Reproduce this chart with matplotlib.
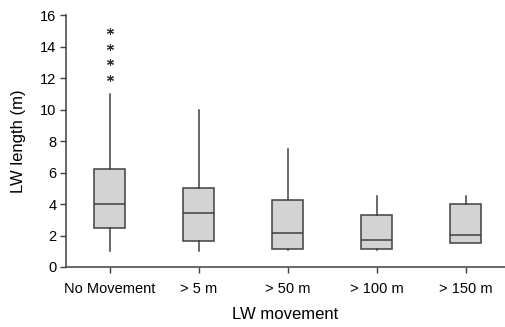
import numpy as np
import matplotlib
matplotlib.use("Agg")
from matplotlib import pyplot as plt


# =============================================================================
# Data (box plot statistics)
# =============================================================================
categories = ['No Movement', '> 5 m', '> 50 m', '> 100 m', '> 150 m']
whisker_low = [1.0, 1.0, 1.1, 1.1, 1.5]
q1 = [2.5, 1.65, 1.15, 1.15, 1.55]
median = [4.0, 3.45, 2.15, 1.7, 2.05]
q3 = [6.25, 5.0, 4.25, 3.3, 4.0]
whisker_high = [11.0, 10.0, 7.5, 4.5, 4.5]
outliers = [[12, 13, 14, 15], [], [], [], []]


# =============================================================================
# Plot parameters
# =============================================================================
plt.rcParams['font.family'] = 'Liberation Sans'
plt.rcParams['font.size'] = 10.5
plt.rcParams['axes.spines.right'] = False
plt.rcParams['axes.spines.top'] = False
edge = '#404040'

fig = plt.figure(figsize=(5.05, 3.27), dpi=100)
ax = fig.add_axes([0.1307, 0.1835, 0.8693, 0.7705])

stats = []
for i in range(len(categories)):
    stats.append({
        'whislo': whisker_low[i], 'q1': q1[i], 'med': median[i],
        'q3': q3[i], 'whishi': whisker_high[i],
        'fliers': outliers[i], 'label': categories[i]})

ax.bxp(stats, positions=np.arange(len(categories)), widths=0.345,
    patch_artist=True, showcaps=False,
    boxprops=dict(facecolor='#d3d3d3', edgecolor=edge, linewidth=1.1),
    medianprops=dict(color=edge, linewidth=1.1),
    whiskerprops=dict(color=edge, linewidth=1.1),
    flierprops=dict(marker=(6, 2, 0), markersize=5, markeredgecolor='#333333',
        markeredgewidth=0.8, linestyle='none'))

# x-axis parameters
ax.set_xlim(-0.49, 4.44)
ax.set_xlabel('LW movement', fontsize=12, labelpad=8)
ax.tick_params(axis='x', length=4, width=1, color=edge, pad=7,
    labelsize=10.5)

# y-axis parameters
ax.set_ylim(0, 16)
ax.set_yticks([0, 2, 4, 6, 8, 10, 12, 14, 16])
ax.set_ylabel('LW length (m)', fontsize=12, labelpad=10)
ax.tick_params(axis='y', length=4, width=1, color=edge, pad=3,
    labelsize=10.5)

for side in ['left', 'bottom']:
    ax.spines[side].set_color(edge)
    ax.spines[side].set_linewidth(1.1)

fig.savefig('out.png', dpi=100)
plt.close()
